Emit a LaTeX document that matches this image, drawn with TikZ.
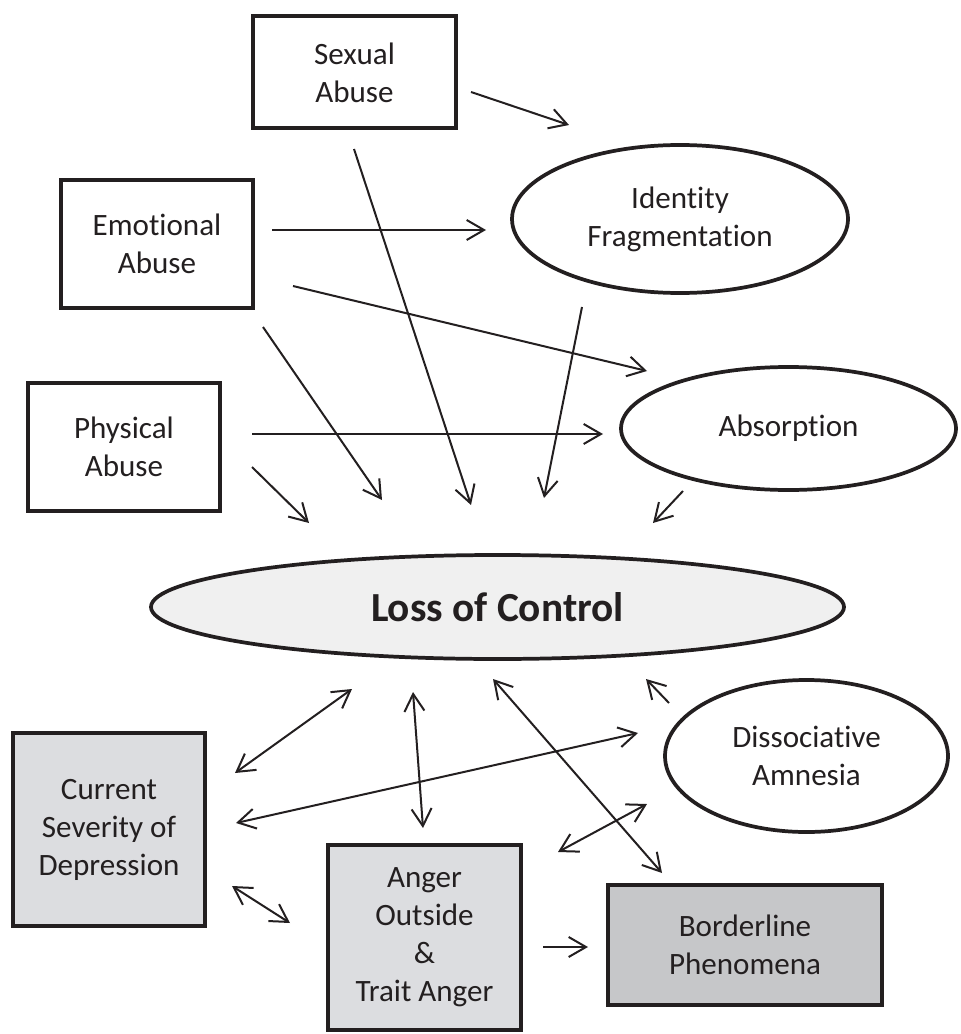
\documentclass[tikz,border=0pt]{standalone}
\usepackage{fontspec}
\setmainfont{Carlito}[Ligatures={NoCommon}]
\usetikzlibrary{arrows.meta,shapes.geometric}
\definecolor{ink}{RGB}{35,31,32}
\definecolor{boxgray}{RGB}{220,221,224}
\definecolor{darkgray}{RGB}{198,199,201}
\definecolor{locgray}{RGB}{240,240,240}
\tikzset{
  txt/.style={font=\fontsize{23.3}{28.5}\selectfont, text=ink, align=center, inner sep=0pt},
  sqbox/.style={txt, draw=ink, line width=3pt, rectangle},
  oval/.style={txt, draw=ink, line width=2.8pt, ellipse},
  arr/.style={draw=ink, line width=1.5pt, -{Straight Barb[length=13pt,width=15pt]}},
  darr/.style={draw=ink, line width=1.5pt, {Straight Barb[length=13pt,width=15pt]}-{Straight Barb[length=13pt,width=15pt]}}
}
\begin{document}
\begin{tikzpicture}[x=0.75pt,y=-0.75pt]
\useasboundingbox (0,0) rectangle (960,1034);
% boxes
\node[sqbox, minimum width=152.25pt, minimum height=84pt] (sex) at (354.5,72.5) {Sexual\\Abuse};
\node[sqbox, minimum width=144pt, minimum height=96pt] (emo) at (157,244) {Emotional\\Abuse};
\node[sqbox, minimum width=144pt, minimum height=96pt] (phy) at (124,447) {Physical\\Abuse};
\node[sqbox, fill=boxgray, minimum width=144pt, minimum height=144.75pt] (dep) at (109,829.5) {Current\\Severity of\\Depression};
\node[sqbox, fill=boxgray, minimum width=144.75pt, minimum height=138.75pt] (ang) at (424.5,937.5) {Anger\\Outside\\\&\\Trait Anger};
\node[sqbox, fill=darkgray, minimum width=205.5pt, minimum height=90pt] (bor) at (745,945) {Borderline\\Phenomena};
% ellipses
\node[oval, minimum width=252pt, minimum height=111pt] (idf) at (680,219) {Identity\\Fragmentation};
\node[oval, minimum width=251.25pt, minimum height=92.25pt] (abs) at (788.5,428.5) {Absorption};
\node[oval, fill=locgray, minimum width=519.75pt, minimum height=78pt, font=\fontsize{31}{36}\selectfont\bfseries] (loc) at (497.5,607) {Loss of Control};
\node[oval, minimum width=212.25pt, minimum height=114pt] (amn) at (806.5,756) {Dissociative\\Amnesia};
% arrow end points
\coordinate (sexA) at (471,92);   \coordinate (idfA) at (569,125);
\coordinate (emoA) at (272,230);  \coordinate (idfB) at (486,230);
\coordinate (emoB) at (293,286);  \coordinate (absA) at (647,371);
\coordinate (phyA) at (252,434);  \coordinate (absB) at (603,434);
\coordinate (phyB) at (252,467);  \coordinate (locA) at (309,523);
\coordinate (emoC) at (263,327);  \coordinate (locB) at (382,500);
\coordinate (sexB) at (354,149);  \coordinate (locC) at (471,505);
\coordinate (idfC) at (582,307);  \coordinate (locD) at (544,498);
\coordinate (absC) at (683,491);  \coordinate (locE) at (653,523);
\coordinate (locF) at (352,689);  \coordinate (depA) at (235,773);
\coordinate (amnA) at (638,733);  \coordinate (depB) at (236,823);
\coordinate (locG) at (413,692);  \coordinate (angA) at (423,828);
\coordinate (locH) at (493,679);  \coordinate (borA) at (662,873);
\coordinate (amnB) at (669,703);  \coordinate (locI) at (646,679);
\coordinate (amnC) at (647,804);  \coordinate (angB) at (558,852);
\coordinate (depC) at (232,886);  \coordinate (angC) at (290,923);
\coordinate (angD) at (543,947);  \coordinate (borB) at (588,947);
% arrows
\draw[arr] (sexA) -- (idfA);
\draw[arr] (emoA) -- (idfB);
\draw[arr] (emoB) -- (absA);
\draw[arr] (phyA) -- (absB);
\draw[arr] (phyB) -- (locA);
\draw[arr] (emoC) -- (locB);
\draw[arr] (sexB) -- (locC);
\draw[arr] (idfC) -- (locD);
\draw[arr] (absC) -- (locE);
\draw[darr] (locF) -- (depA);
\draw[darr] (amnA) -- (depB);
\draw[darr] (locG) -- (angA);
\draw[darr] (locH) -- (borA);
\draw[arr] (amnB) -- (locI);
\draw[darr] (amnC) -- (angB);
\draw[darr] (depC) -- (angC);
\draw[arr] (angD) -- (borB);
\end{tikzpicture}
\end{document}
